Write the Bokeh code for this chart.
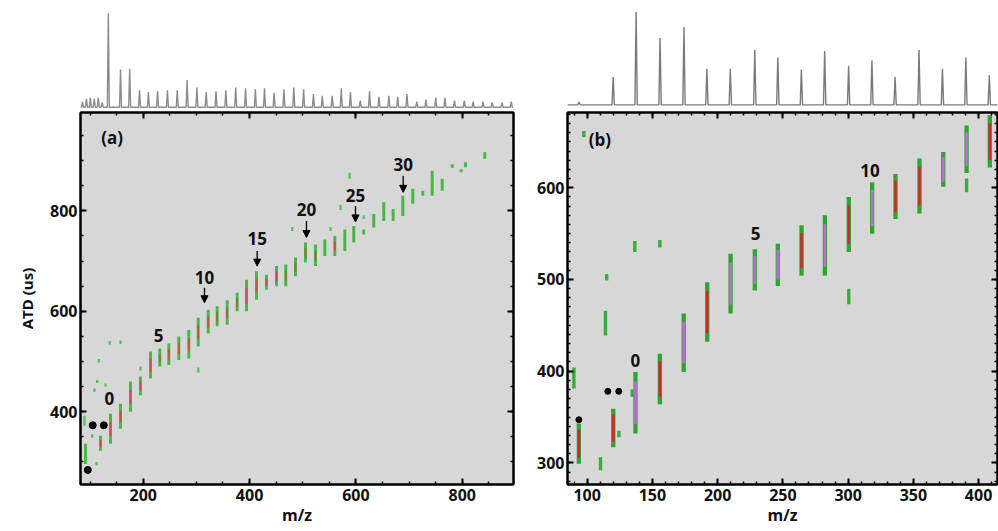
import numpy as np
from bokeh.plotting import figure
from bokeh.layouts import row, column
from bokeh.models import (ColumnDataSource, Range1d, LinearAxis, Arrow, NormalHead,
                          SingleIntervalTicker, CustomJSTickFormatter)
from bokeh.core.properties import value
from bokeh.embed import file_html
from bokeh.resources import INLINE

FONT = "Open Sans"

# ================= DATA : panel (a) =================
spec_a_mz = [85.8, 93.3, 100.8, 108.3, 115.9, 123.4,
             135.2, 158.5, 176.0, 194.8, 211.8, 229.3, 248.1, 266.9, 285.7, 304.5,
             322.2, 341.0, 359.8, 378.6, 397.4, 416.2, 433.7, 452.0, 470.8, 489.6,
             508.4, 527.2, 544.1, 562.9, 580.4, 597.9, 616.7, 634.4, 652.4, 671.3,
             688.2, 705.9, 724.7, 742.2, 761.0, 778.5, 796.7, 815.5, 832.4, 851.2,
             868.7, 887.5, 905.2]
spec_a_int = [6, 9, 10, 9, 10, 5,
              100, 40, 41, 18, 16, 17, 18, 18, 29, 21,
              16, 17, 18, 21, 20, 19, 20, 15, 19, 21,
              19, 14, 12, 12, 20, 16, 7, 17, 11, 12,
              11, 14, 6, 8, 10, 10, 7, 7, 6, 6,
              5, 5, 6]

streak_a_mz = [91.4, 119.6, 138.4, 157.2, 176.0, 194.8, 213.7, 231.1, 248.1, 266.9,
               285.7, 303.4, 322.2, 339.1, 357.9, 376.7, 394.2, 413.0, 431.8, 450.6,
               468.1, 486.4, 505.2, 524.0, 541.5, 560.3, 579.1, 596.0, 614.8, 633.6,
               652.4, 670.1, 688.2, 707.0, 725.8, 743.5, 762.3, 781.1, 798.0, 806.0, 842.4]
streak_a_lo = [296, 322, 336, 366, 400, 433, 466, 490, 493, 503,
               506, 530, 556, 570, 573, 600, 600, 623, 643, 650,
               650, 670, 697, 690, 710, 710, 720, 737, 753, 767,
               780, 780, 790, 814, 830, 830, 840, 886, 877, 887, 904]
streak_a_hi = [336, 352, 396, 416, 460, 470, 520, 526, 536, 550,
               563, 587, 603, 610, 622, 637, 663, 680, 673, 690,
               693, 707, 737, 733, 743, 750, 763, 770, 763, 794,
               817, 804, 830, 844, 840, 880, 864, 893, 883, 897, 917]
streak_a_red = [0, 1, 1, 1, 1, 1, 1, 1, 1, 1,
                1, 1, 1, 1, 1, 1, 1, 1, 1, 1,
                1, 1, 1, 1, 0, 1, 0, 0, 0, 0,
                0, 0, 0, 0, 0, 0, 0, 0, 0, 0, 0]

speck_a_mz = [137.1, 157.2, 116.4, 113.4, 129.0, 108.3, 112.1, 89.5, 104.0, 194.8, 303.4,
              480.2, 552.2, 571.0, 588.0, 614.8]
speck_a_lo = [534, 535, 498, 457, 450, 440, 293, 372, 348, 482, 478,
              760, 760, 802, 864, 784]
speck_a_hi = [541, 542, 505, 463, 456, 446, 300, 392, 355, 490, 488,
              768, 768, 812, 876, 791]

star_a_mz = [95.7, 105.0, 125.8]
star_a_atd = [284, 373, 373]

label_a_text = ["(a)", "0", "5", "10", "15", "20", "25", "30"]
label_a_mz = [141.6, 136.5, 228.7, 315.2, 414.3, 507.0, 599.2, 688.9]
label_a_atd = [947, 426, 552, 667, 745, 802, 830, 892]

arrow_a_mz = [315.2, 414.3, 507.0, 599.2, 688.9]
arrow_a_from = [647, 720, 780, 810, 870]
arrow_a_to = [617, 690, 747, 778, 837]

# ================= DATA : panel (b) =================
spec_b_mz = [93.7, 120.0, 137.6, 156.0, 174.4, 192.0, 210.0, 228.8, 246.5, 264.6,
             282.5, 300.9, 318.8, 336.6, 355.0, 373.0, 391.0, 409.0]
spec_b_int = [3, 30, 100, 72, 84, 39, 39, 59, 51, 38,
              58, 42, 48, 30, 59, 39, 51, 32]

streak_b_mz = [93.6, 120.0, 137.0, 155.7, 174.0, 192.0, 209.9, 228.5, 246.1, 264.3,
               282.2, 300.5, 318.4, 336.3, 354.7, 372.9, 390.8, 408.6]
streak_b_lo = [299, 317, 332, 364, 399, 432, 463, 488, 493, 504,
               504, 530, 550, 566, 572, 601, 616, 622]
streak_b_hi = [343, 359, 399, 419, 463, 497, 528, 533, 539, 559,
               570, 590, 606, 615, 632, 639, 668, 679]
streak_b_core = ["red", "red", "magenta", "red", "magenta", "red", "magenta", "magenta",
                 "magenta", "red", "magenta", "red", "magenta", "red", "red", "magenta",
                 "magenta", "red"]

speck_b_mz = [89.8, 110.2, 114.0, 114.9, 124.3, 136.5, 155.7, 97.4, 300.5, 390.8, 134.5]
speck_b_lo = [381, 292, 439, 499, 328, 530, 535, 655, 473, 595, 372]
speck_b_hi = [404, 306, 466, 506, 335, 542, 543, 662, 490, 610, 380]

star_b_mz = [93.6, 115.8, 124.2]
star_b_atd = [347, 378, 378]

label_b_text = ["(b)", "0", "5", "10"]
label_b_mz = [109.7, 137.0, 229.0, 316.7]
label_b_atd = [653, 412, 550, 619]

# ================= helpers =================
GRAY_BG = "#d7d7d7"
BLANK = CustomJSTickFormatter(code="return '';")


def spectrum(width, border_left, xr, yr, mz, inten, dw, color):
    p = figure(width=width, height=110, x_range=xr, y_range=yr,
               output_backend="svg", toolbar_location=None,
               x_axis_location=None, y_axis_location=None,
               min_border_left=border_left, min_border_right=0,
               min_border_top=0, min_border_bottom=0)
    p.grid.visible = False
    p.outline_line_color = None
    p.background_fill_color = "white"
    xs = [xr.start]
    ys = [0]
    for m, h in sorted(zip(mz, inten)):
        xs += [m - dw, m, m + dw]
        ys += [0, h, 0]
    xs.append(xr.end)
    ys.append(0)
    p.line(xs, ys, line_color=color, line_width=1.4)
    return p


def heat(width, border_left, border_right, xr, yr, xtick, ytick):
    p = figure(width=width, height=421, x_range=xr, y_range=yr,
               output_backend="svg", toolbar_location=None,
               min_border_left=border_left, min_border_right=border_right,
               min_border_top=2, min_border_bottom=47)
    p.grid.visible = False
    p.background_fill_color = GRAY_BG
    p.border_fill_color = "white"
    p.outline_line_color = "black"
    p.outline_line_width = 2
    p.xaxis.ticker = xtick
    p.yaxis.ticker = ytick
    for side, tk in (("above", xtick), ("right", ytick)):
        ax = LinearAxis(ticker=tk, formatter=BLANK, major_label_standoff=0)
        p.add_layout(ax, side)
    for ax in p.axis:
        ax.axis_line_width = 2
        ax.major_tick_in = 6
        ax.major_tick_out = 0
        ax.minor_tick_in = 3
        ax.minor_tick_out = 0
        ax.major_tick_line_width = 2
        ax.minor_tick_line_width = 1.5
    b = p.below[0]
    b.major_label_text_font = FONT
    b.major_label_text_font_style = "bold"
    b.major_label_text_font_size = "16px"
    b.major_label_text_color = "#111111"
    b.major_label_standoff = 4
    b.axis_label = "m/z"
    b.axis_label_text_font = FONT
    b.axis_label_text_font_style = "bold"
    b.axis_label_text_font_size = "16px"
    b.axis_label_text_color = "#111111"
    b.axis_label_standoff = 0
    l = p.left[0]
    l.major_label_text_font = FONT
    l.major_label_text_font_style = "bold"
    l.major_label_text_font_size = "16px"
    l.major_label_text_color = "#111111"
    l.major_label_standoff = 3
    return p


def draw_labels(p, mz, atd, text):
    src = ColumnDataSource(dict(x=mz, y=atd, t=text))
    p.text(x="x", y="y", text="t", source=src, text_font=value(FONT),
           text_font_style="bold", text_font_size="17px", text_color="#111111",
           text_align="center", text_baseline="middle")


# ================= panel (a) =================
xa_spec = Range1d(82, 909.5)
ya_spec = Range1d(-3.5, 113.5)
spec_a = spectrum(520, 80, xa_spec, ya_spec, spec_a_mz, spec_a_int, 1.9, "#8c8c8c")

xa = Range1d(82, 896.4)
ya = Range1d(255, 996)
heat_a = heat(520, 80, 7, xa, ya,
              SingleIntervalTicker(interval=200, num_minor_ticks=4),
              SingleIntervalTicker(interval=200, num_minor_ticks=4))
heat_a.left[0].axis_label = "ATD (us)"
heat_a.left[0].axis_label_text_font = FONT
heat_a.left[0].axis_label_text_font_style = "bold"
heat_a.left[0].axis_label_text_font_size = "15px"
heat_a.left[0].axis_label_text_color = "#111111"
heat_a.left[0].axis_label_standoff = 10

heat_a.vbar(x=streak_a_mz, bottom=streak_a_lo, top=streak_a_hi, width=5.6,
            fill_color="#45b845", line_color=None)
red_mz = [m for m, r in zip(streak_a_mz, streak_a_red) if r]
red_lo = [lo + 0.25 * (hi - lo) for lo, hi, r in zip(streak_a_lo, streak_a_hi, streak_a_red) if r]
red_hi = [lo + 0.72 * (hi - lo) for lo, hi, r in zip(streak_a_lo, streak_a_hi, streak_a_red) if r]
heat_a.vbar(x=red_mz, bottom=red_lo, top=red_hi, width=3.0,
            fill_color="#d8404e", fill_alpha=0.85, line_color=None)
heat_a.vbar(x=speck_a_mz, bottom=speck_a_lo, top=speck_a_hi, width=4.5,
            fill_color="#5cc05c", line_color=None)
heat_a.scatter(star_a_mz, star_a_atd, marker="circle", size=7, color="black")
draw_labels(heat_a, label_a_mz, label_a_atd, label_a_text)
heat_a.add_layout(Arrow(end=NormalHead(size=7, fill_color="black", line_color="black"),
                        line_width=1.3, line_color="black",
                        source=ColumnDataSource(dict(x=arrow_a_mz, y0=arrow_a_from, y1=arrow_a_to)),
                        x_start="x", y_start="y0", x_end="x", y_end="y1"))

# ================= panel (b) =================
xb_spec = Range1d(84.9, 415.3)
yb_spec = Range1d(-6.1, 112.5)
spec_b = spectrum(478, 47, xb_spec, yb_spec, spec_b_mz, spec_b_int, 0.9, "#7a7a7a")

xb = Range1d(84.9, 414.5)
yb = Range1d(276.4, 682.1)
heat_b = heat(478, 47, 1, xb, yb,
              SingleIntervalTicker(interval=50, num_minor_ticks=5),
              SingleIntervalTicker(interval=100, num_minor_ticks=10))

heat_b.vbar(x=streak_b_mz, bottom=streak_b_lo, top=streak_b_hi, width=3.3,
            fill_color="#2fa52f", line_color=None)
core_col = {"red": "#d9203a", "magenta": "#c26be0"}
heat_b.vbar(x=streak_b_mz,
            bottom=[lo + 0.15 * (hi - lo) for lo, hi in zip(streak_b_lo, streak_b_hi)],
            top=[lo + 0.85 * (hi - lo) for lo, hi in zip(streak_b_lo, streak_b_hi)],
            width=1.9, fill_color=[core_col[c] for c in streak_b_core], line_color=None)
heat_b.vbar(x=speck_b_mz, bottom=speck_b_lo, top=speck_b_hi, width=2.6,
            fill_color="#3aac3a", line_color=None)
heat_b.scatter(star_b_mz, star_b_atd, marker="circle", size=6, color="black")
draw_labels(heat_b, label_b_mz, label_b_atd, label_b_text)

layout = row(column(spec_a, heat_a), column(spec_b, heat_b))
open("out.html", "w").write(file_html(layout, INLINE))
